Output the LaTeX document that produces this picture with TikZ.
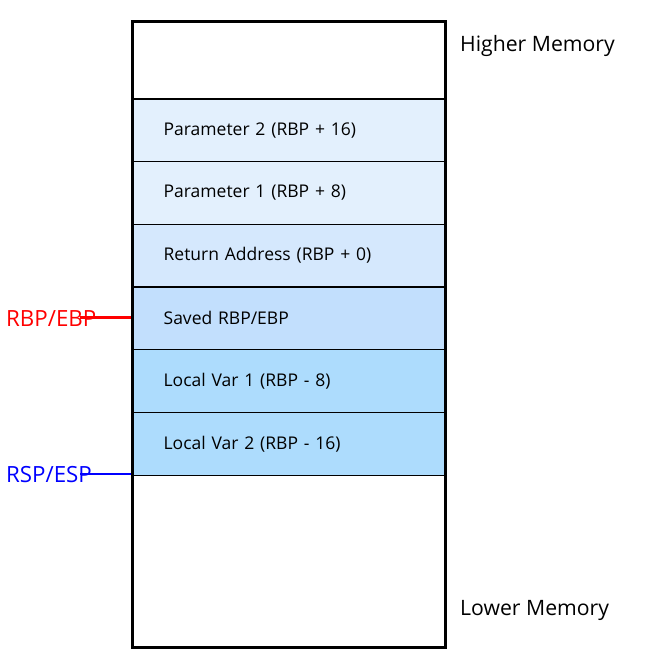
\documentclass[tikz,border=0pt]{standalone}
\usepackage{fontspec}
\setmainfont{Open Sans}
\definecolor{pparam}{HTML}{E3F0FD}
\definecolor{pret}{HTML}{D5E8FD}
\definecolor{psaved}{HTML}{C2DFFD}
\definecolor{plocal}{HTML}{ADDCFD}
\definecolor{pred}{HTML}{FF0000}
\definecolor{pblue}{HTML}{0000FF}
\begin{document}
\begin{tikzpicture}[x=1pt,y=-1pt,
  slot/.style={draw=black,line width=1.3pt,rectangle,minimum width=313pt,minimum height=62.7pt,
    text width=249pt,inner xsep=32pt,inner ysep=0pt,align=left,font=\fontsize{17.5}{20}\selectfont,anchor=north west},
  side/.style={anchor=west,inner sep=0pt,font=\fontsize{21.2}{24}\selectfont},
  ptr/.style={anchor=west,inner sep=0pt,font=\fontsize{22.3}{26}\selectfont},
  ptrline/.style={line width=2.4pt}]
\useasboundingbox (0,0) rectangle (649,670);
\fill[white] (0,0) rectangle (649,670);
\node[slot,fill=white,draw=none] (top) at (131,20) {};
\node[slot,fill=pparam] (p2) at (131,98.3) {Parameter 2 (RBP + 16)};
\node[slot,fill=pparam] (p1) at (131,161) {Parameter 1 (RBP + 8)};
\node[slot,fill=pret] (ra) at (131,223.7) {Return Address (RBP + 0)};
\node[slot,fill=psaved] (sv) at (131,286.4) {Saved RBP/EBP};
\node[slot,fill=plocal] (l1) at (131,349.1) {Local Var 1 (RBP - 8)};
\node[slot,fill=plocal] (l2) at (131,411.8) {Local Var 2 (RBP - 16)};
\node[draw,line width=3pt,rectangle,minimum width=313pt,minimum height=626pt,anchor=north west,inner sep=0pt] (stack) at (131,20) {};
\node[side] (hi) at (460,46) {Higher Memory};
\node[side] (lo) at (460,610) {Lower Memory};
\node[ptr,text=pred] (rbp) at (6,319) {RBP/EBP};
\node[ptr,text=pblue] (rsp) at (6,475) {RSP/ESP};
\coordinate (rbpstart) at (80,317.5);
\coordinate (rspstart) at (80,474);
\draw[ptrline,pred] (rbpstart) -- (sv.north west |- rbpstart);
\draw[ptrline,pblue] (rspstart) -- (l2.south west |- rspstart);
\end{tikzpicture}
\end{document}
